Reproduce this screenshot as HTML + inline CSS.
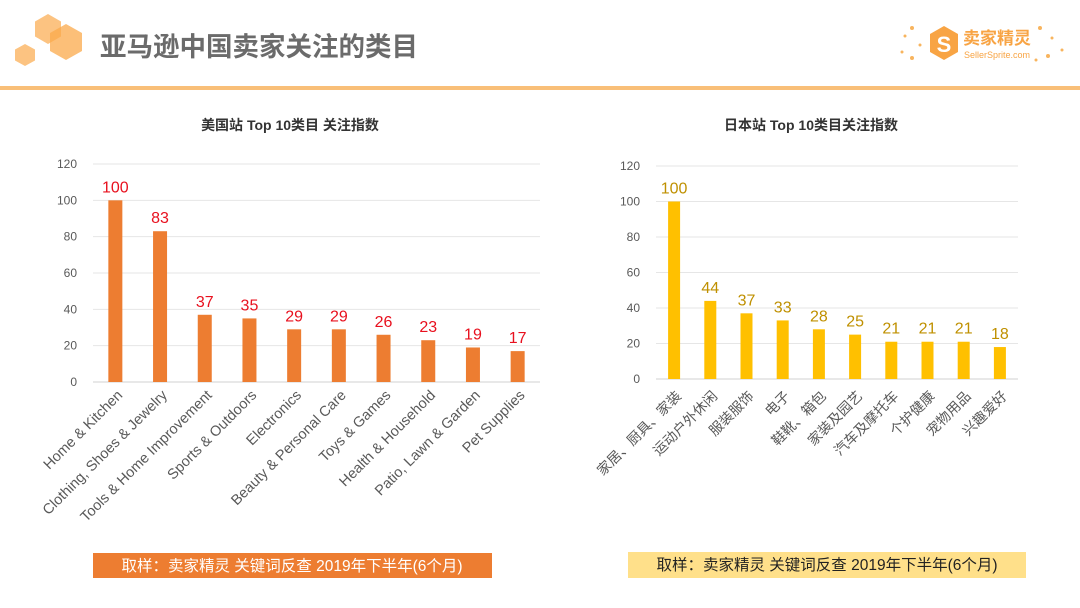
<!DOCTYPE html>
<html><head><meta charset="utf-8"><style>
body{margin:0;width:1080px;height:608px;background:#fff;overflow:hidden;font-family:"Liberation Sans","Noto Sans CJK SC",sans-serif;}
svg{position:absolute;left:0;top:0}
</style></head><body>
<svg id="s" width="1080" height="608" xmlns="http://www.w3.org/2000/svg">
<g fill="#FBA94B">
<polygon points="48,14 61,21.5 61,36.5 48,44 35,36.5 35,21.5" opacity="0.7"/>
<polygon points="66,24 82,33 82,51 66,60 50,51 50,33" opacity="0.75"/>
<polygon points="25,44 35,49.5 35,60.5 25,66 15,60.5 15,49.5" opacity="0.7"/>
</g>
<text x="100" y="56" font-size="26.5" font-weight="bold" fill="#6b6b6b">亚马逊中国卖家关注的类目</text>
<g>
<polygon points="944,26 958,34 958,52 944,60 930,52 930,34" fill="#F8A444"/>
<text x="944" y="52" font-size="22" font-weight="bold" fill="#fff" text-anchor="middle">S</text>
<text x="963" y="44" font-size="17" font-weight="bold" fill="#F8A444">卖家精灵</text>
<text x="964" y="58" font-size="9" fill="#F8A444">SellerSprite.com</text>
<g fill="#F8B45E"><circle cx="905" cy="36" r="1.5"/><circle cx="912" cy="28" r="2"/><circle cx="902" cy="52" r="1.5"/><circle cx="912" cy="58" r="2"/><circle cx="1040" cy="28" r="2"/><circle cx="1052" cy="38" r="1.5"/><circle cx="1048" cy="56" r="2"/><circle cx="1062" cy="50" r="1.5"/><circle cx="920" cy="45" r="1.5"/><circle cx="1036" cy="60" r="1.5"/></g>
</g>
<rect x="0" y="86" width="1080" height="4" fill="#F9BF78"/>
<text x="290" y="130" font-size="14" font-weight="bold" fill="#333" text-anchor="middle">美国站 Top 10类目 关注指数</text>
<text x="811" y="130" font-size="14" font-weight="bold" fill="#333" text-anchor="middle">日本站 Top 10类目关注指数</text>
<g id="c1"></g>
<g id="c2"></g>
<rect x="93" y="553" width="399" height="25" fill="#ED7D31"/>
<text x="292" y="571" font-size="15.5" fill="#fff" text-anchor="middle">取样：卖家精灵 关键词反查  2019年下半年(6个月)</text>
<rect x="628" y="552" width="398" height="26" fill="#FFE08A"/>
<text x="827" y="570" font-size="15.5" fill="#222" text-anchor="middle">取样：卖家精灵 关键词反查  2019年下半年(6个月)</text>
</svg>
<script>
const usCategories=["Home & Kitchen","Clothing, Shoes & Jewelry","Tools & Home Improvement","Sports & Outdoors","Electronics","Beauty & Personal Care","Toys & Games","Health & Household","Patio, Lawn & Garden","Pet Supplies"];
const usValues=[100,83,37,35,29,29,26,23,19,17];
const jpCategories=["家居、厨具、家装","运动户外休闲","服装服饰","电子","鞋靴、箱包","家装及园艺","汽车及摩托车","个护健康","宠物用品","兴趣爱好"];
const jpValues=[100,44,37,33,28,25,21,21,21,18];
const yTicks=[0,20,40,60,80,100,120];
const NS="http://www.w3.org/2000/svg";
function mk(t,a,p){const e=document.createElementNS(NS,t);for(const k in a)e.setAttribute(k,a[k]);p.appendChild(e);return e;}
function draw(g,cats,vals,cfg){
  const y=v=>cfg.y0-(cfg.y0-cfg.y120)*v/120;
  const step=(cfg.x1-cfg.x0)/cats.length;
  yTicks.forEach(t=>{
    const l=mk('line',{x1:cfg.x0,x2:cfg.x1,y1:y(t),y2:y(t),stroke:t===0?'#d0d0d0':'#e6e6e6','stroke-width':1},g);
    
    
    const tx=mk('text',{x:cfg.x0-16,y:y(t)+4,'font-size':12,fill:'#595959','text-anchor':'end'},g);
    tx.textContent=t;
    
    
  });
  cats.forEach((c,i)=>{
    const cx=cfg.x0+step*(i+0.5);
    const b=mk('rect',{x:cx-cfg.bw/2,y:y(vals[i]),width:cfg.bw,height:cfg.y0-y(vals[i]),fill:cfg.color},g);
    
    
    const v=mk('text',{x:cx,y:y(vals[i])-8,'font-size':16,fill:cfg.lc,'text-anchor':'middle'},g);
    v.textContent=vals[i];
    
    
    const ax=cx+cfg.dx, ay=cfg.y0+cfg.dy;
    const lb=mk('text',{x:ax,y:ay,'font-size':cfg.fs,fill:'#595959','text-anchor':'end',transform:`rotate(-45 ${ax} ${ay})`},g);
    lb.textContent=c;
    
    
  });
}
draw(document.getElementById('c1'),usCategories,usValues,{x0:93,x1:540,y0:382,y120:164,bw:14,color:'#ED7D31',lc:'#E8101E',fs:14.5,dx:8,dy:14});
draw(document.getElementById('c2'),jpCategories,jpValues,{x0:656,x1:1018,y0:379,y120:166,bw:12,color:'#FFC000',lc:'#BF9000',fs:14,dx:8,dy:18});
</script>
</body></html>
